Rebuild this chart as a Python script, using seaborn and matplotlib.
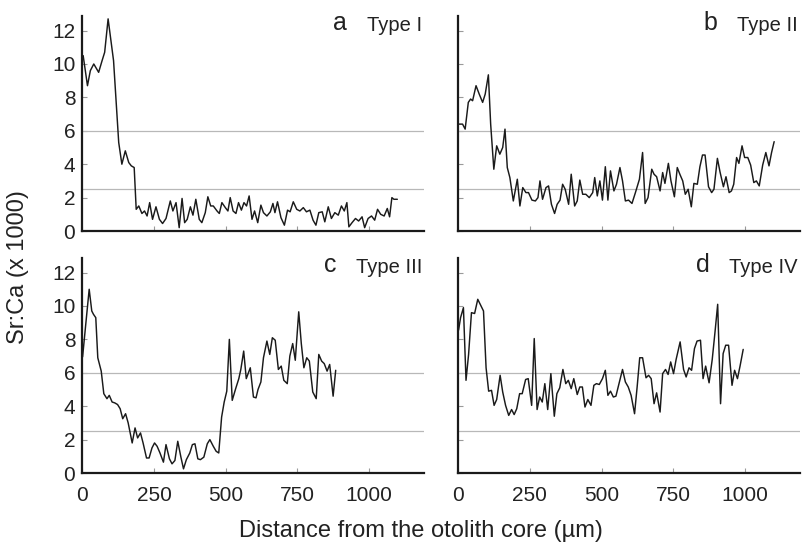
import matplotlib
matplotlib.use("Agg")
import matplotlib.pyplot as plt
import numpy as np
import pandas as pd
import seaborn as sns

# ---------------- data ----------------
panels = ["a", "b", "c", "d"]
types = ["Type I", "Type II", "Type III", "Type IV"]
threshold_lines = [6.0, 2.5]
x_ticks = [0, 250, 500, 750, 1000]
y_ticks = [0, 2, 4, 6, 8, 10, 12]

x_a = [3, 18, 28, 40, 57, 69, 78, 90, 109, 127, 138, 150, 162, 171, 181, 188, 197, 208, 217, 226,
       235, 245, 257, 269, 280, 292, 307, 316, 327, 338, 348, 357, 366, 377, 386, 396, 408, 417, 429, 438,
       448, 457, 470, 478, 487, 499, 508, 516, 526, 536, 545, 555, 564, 573, 582, 592, 601, 612, 623, 632,
       644, 656, 665, 672, 681, 693, 705, 716, 725, 736, 748, 759, 771, 782, 794, 805, 815, 825, 837, 846,
       858, 869, 881, 893, 904, 914, 923, 930, 941, 953, 964, 976, 985, 997, 1009, 1020, 1030, 1041, 1053, 1064,
       1072, 1080, 1087, 1099]
y_a = [10.5, 8.7, 9.6, 10.0, 9.5, 10.2, 10.7, 12.7, 10.2, 5.3, 4.0, 4.8, 4.1, 3.9, 3.8, 1.3, 1.5, 1.05, 1.2, 0.9,
       1.7, 0.7, 1.45, 0.7, 0.45, 0.75, 1.8, 1.2, 1.7, 0.2, 1.95, 0.5, 0.7, 1.45, 0.95, 1.9, 0.7, 0.5, 1.1, 2.05,
       1.5, 1.5, 1.2, 1.05, 1.7, 1.4, 1.2, 2.0, 1.2, 1.05, 1.7, 1.25, 1.7, 1.5, 2.1, 0.7, 1.2, 0.5, 1.55, 1.1,
       0.9, 1.15, 1.65, 1.1, 1.75, 0.8, 0.35, 1.25, 1.15, 1.75, 1.3, 1.2, 1.4, 1.15, 1.25, 0.65, 0.35, 1.1, 1.15, 0.55,
       1.45, 0.75, 1.1, 0.95, 1.5, 1.2, 1.7, 0.25, 0.5, 0.75, 0.6, 0.85, 0.2, 0.75, 0.9, 0.65, 1.3, 1.0, 0.9, 1.35,
       0.85, 2.0, 1.9, 1.9]

x_b = [1, 15, 24, 35, 43, 50, 62, 73, 85, 94, 105, 113, 124, 134, 145, 155, 163, 171, 180, 192,
       206, 215, 225, 236, 245, 257, 269, 278, 285, 294, 306, 315, 325, 336, 345, 355, 364, 373, 385, 394,
       406, 415, 424, 434, 445, 457, 469, 476, 485, 494, 503, 513, 522, 531, 543, 552, 564, 573, 583, 594,
       606, 618, 632, 643, 652, 662, 675, 683, 692, 704, 713, 721, 733, 742, 754, 764, 773, 783, 792, 802,
       813, 822, 834, 843, 852, 861, 873, 884, 892, 904, 913, 925, 934, 945, 953, 961, 971, 979, 990, 999,
       1010, 1020, 1031, 1040, 1050, 1062, 1073, 1084, 1093, 1102]
y_b = [6.4, 6.4, 6.1, 7.7, 7.9, 7.8, 8.7, 8.2, 7.7, 8.2, 9.35, 6.4, 3.7, 5.1, 4.6, 5.0, 6.1, 3.8, 3.2, 1.8,
       3.1, 1.5, 2.6, 2.3, 2.3, 1.85, 1.8, 2.0, 3.0, 1.9, 2.6, 2.7, 1.6, 1.05, 1.6, 1.85, 2.8, 2.5, 1.6, 3.4,
       1.5, 1.8, 3.05, 2.2, 2.2, 2.0, 2.3, 3.2, 2.1, 3.0, 1.85, 3.85, 1.85, 3.6, 2.4, 2.8, 3.8, 3.0, 1.8, 1.85,
       1.65, 2.3, 3.1, 4.7, 1.65, 2.0, 3.7, 3.4, 3.25, 2.4, 3.5, 2.85, 4.05, 3.0, 2.05, 3.8, 3.4, 3.0, 2.2, 2.5,
       1.45, 2.85, 2.8, 3.85, 4.55, 4.55, 2.65, 2.3, 2.5, 4.35, 3.55, 2.65, 3.25, 2.3, 2.4, 2.8, 4.4, 4.05, 5.1, 4.4,
       4.4, 3.95, 2.9, 3.0, 2.7, 3.95, 4.7, 3.9, 4.7, 5.35]

x_c = [1, 12, 24, 33, 39, 47, 54, 66, 75, 86, 94, 104, 113, 123, 132, 141, 151, 160, 174, 184,
       193, 203, 212, 224, 233, 243, 252, 261, 271, 283, 292, 304, 313, 323, 333, 344, 353, 363, 375, 384,
       393, 403, 412, 424, 436, 445, 457, 467, 476, 486, 495, 504, 513, 523, 535, 546, 553, 563, 572, 586,
       597, 606, 613, 623, 632, 644, 654, 663, 673, 684, 694, 703, 715, 724, 734, 743, 755, 764, 773, 783,
       792, 804, 816, 825, 835, 844, 854, 863, 875, 884]
y_c = [6.95, 8.9, 11.0, 9.7, 9.5, 9.3, 6.9, 6.1, 4.75, 4.45, 4.65, 4.25, 4.2, 4.1, 3.85, 3.25, 3.55, 3.0, 1.8, 2.7,
       2.1, 2.4, 1.8, 0.9, 0.9, 1.5, 1.8, 1.6, 1.2, 0.65, 1.7, 0.85, 0.55, 0.75, 1.9, 0.95, 0.25, 0.8, 1.2, 1.7,
       1.75, 0.85, 0.8, 0.95, 1.75, 2.0, 1.6, 1.3, 1.2, 3.35, 4.25, 4.9, 8.0, 4.35, 5.05, 5.65, 6.2, 7.3, 5.65, 6.3,
       4.55, 4.5, 5.0, 5.45, 6.9, 7.9, 7.1, 8.1, 7.95, 6.2, 6.4, 5.55, 5.35, 7.0, 7.75, 6.75, 9.65, 7.75, 6.3, 6.9,
       6.7, 4.85, 4.45, 7.1, 6.7, 6.55, 6.1, 6.5, 4.6, 6.15]

x_d = [1, 8, 18, 27, 36, 46, 57, 68, 78, 88, 97, 106, 116, 125, 134, 146, 155, 165, 176, 186,
       195, 204, 214, 223, 235, 244, 256, 265, 275, 284, 293, 302, 312, 323, 335, 344, 354, 365, 375, 384,
       394, 403, 415, 424, 433, 442, 452, 463, 473, 482, 492, 503, 513, 522, 531, 541, 550, 560, 573, 583,
       593, 603, 615, 624, 633, 643, 655, 664, 673, 683, 692, 704, 713, 723, 732, 741, 751, 760, 774, 786,
       795, 805, 814, 824, 833, 845, 854, 863, 875, 886, 896, 905, 915, 924, 933, 943, 955, 964, 974, 983,
       994]
y_d = [8.55, 9.3, 9.9, 5.55, 7.1, 9.6, 9.55, 10.4, 10.05, 9.7, 6.3, 4.9, 4.95, 4.05, 4.4, 5.85, 4.85, 4.05, 3.45, 3.8,
       3.5, 3.85, 4.75, 4.75, 5.6, 5.65, 4.05, 8.05, 3.8, 4.55, 4.25, 5.35, 3.8, 5.95, 3.4, 4.75, 5.1, 6.2, 5.35, 5.55,
       5.05, 5.65, 4.7, 5.15, 5.15, 3.95, 4.4, 4.05, 5.25, 5.35, 5.3, 5.65, 6.15, 4.65, 4.9, 4.55, 4.6, 5.3, 6.2, 5.45,
       5.15, 4.65, 3.55, 5.15, 6.9, 6.9, 5.7, 5.85, 5.65, 4.15, 4.8, 3.65, 5.95, 6.2, 5.9, 6.65, 5.95, 6.8, 7.85, 6.2,
       5.75, 6.3, 6.15, 7.45, 7.9, 7.95, 5.65, 6.4, 5.4, 6.8, 8.5, 10.1, 4.15, 7.15, 7.65, 7.65, 5.25, 6.15, 5.65, 6.4,
       7.4]

xs = [x_a, x_b, x_c, x_d]
ys = [y_a, y_b, y_c, y_d]

df = pd.concat(
    [pd.DataFrame({"panel": p, "distance": x, "srca": y}) for p, x, y in zip(panels, xs, ys)],
    ignore_index=True,
)

# ---------------- style ----------------
sns.set_theme(style="ticks")
plt.rcParams["font.family"] = ["Liberation Sans", "DejaVu Sans"]

fig = plt.figure(figsize=(8.03, 5.49), dpi=100)

lefts = [0.1025, 0.5707]
bottoms = [0.5792, 0.1384]
width, height = 0.4255, 0.3925

ink = "#1a1a1a"
for i, (p, t) in enumerate(zip(panels, types)):
    row, col = divmod(i, 2)
    ax = fig.add_axes([lefts[col], bottoms[row], width, height])
    for yv in threshold_lines:
        ax.axhline(yv, color="#b8b8b8", lw=0.9, zorder=1)
    sns.lineplot(data=df[df["panel"] == p], x="distance", y="srca", ax=ax,
                 estimator=None, sort=False, color=ink, lw=1.05, zorder=3)
    ax.set_xlim(0, 1192)
    ax.set_ylim(0, 12.9)
    ax.set_xticks(x_ticks)
    ax.set_yticks(y_ticks)
    ax.set_xlabel("")
    ax.set_ylabel("")
    for s in ["top", "right"]:
        ax.spines[s].set_visible(False)
    for s in ["left", "bottom"]:
        ax.spines[s].set_linewidth(1.6)
        ax.spines[s].set_color(ink)
    ax.tick_params(direction="in", length=3.5, width=0.8, color="#9a9a9a",
                   labelsize=15, labelcolor="#222222")
    ax.tick_params(axis="x", pad=9)
    ax.tick_params(axis="y", pad=5)
    if row == 0:
        ax.tick_params(axis="x", labelbottom=False)
    if col == 1:
        ax.tick_params(axis="y", labelleft=False)
    tt = ax.text(0.994, 0.928, t, transform=ax.transAxes, ha="right", va="baseline",
                 fontsize=14.5, color="#222222")
    ax.annotate(p, xy=(0, 0), xycoords=tt, xytext=(-14, 0), textcoords="offset points",
                ha="right", va="bottom", fontsize=18, color="#222222")

fig.text(0.022, 0.513, "Sr:Ca (x 1000)", rotation=90, ha="center", va="center",
         fontsize=17, color="#222222")
fig.text(0.524, 0.032, "Distance from the otolith core (µm)", ha="center", va="center",
         fontsize=17, color="#222222")

fig.savefig("out.png", dpi=100)
